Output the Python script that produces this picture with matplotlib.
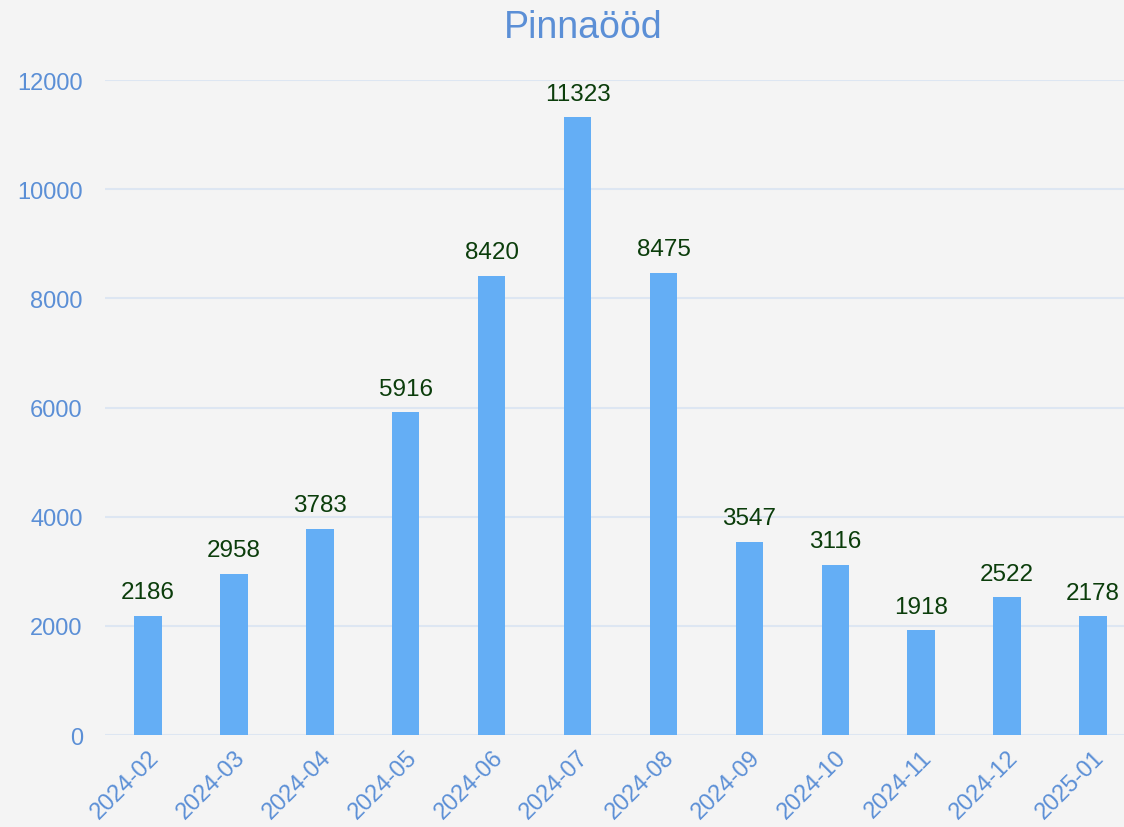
import numpy as np
import matplotlib.pyplot as plt

plt.rcParams['font.family'] = ['Liberation Sans', 'DejaVu Sans']

# Данные
months = ['2024-02', '2024-03', '2024-04', '2024-05', '2024-06', '2024-07',
          '2024-08', '2024-09', '2024-10', '2024-11', '2024-12', '2025-01']
values = [2186, 2958, 3783, 5916, 8420, 11323, 8475, 3547, 3116, 1918, 2522, 2178]

bg = '#f4f4f4'
blue_txt = '#5b8fd6'

fig = plt.figure(figsize=(11.24, 8.28), dpi=100, facecolor=bg)
ax = fig.add_axes([0.0934, 0.111, 1 - 0.0934, 0.791])
ax.set_facecolor(bg)

x = np.arange(len(months))
ax.bar(x, values, width=0.32, color='#64aef5', zorder=3)

for xi, v in zip(x, values):
    ax.text(xi, v + 230, str(v), ha='center', va='bottom', fontsize=17.5, color='#0b3d0b')

ax.set_xlim(-0.5, 11.36)
ax.set_ylim(0, 12000)
ax.set_yticks(np.arange(0, 12001, 2000))
ax.set_xticks(x)
ax.set_xticklabels(months, rotation=45, ha='right', rotation_mode='anchor')
ax.tick_params(axis='both', length=0, colors=blue_txt, labelsize=17)
ax.tick_params(axis='x', pad=8)
ax.tick_params(axis='y', pad=16)
ax.grid(axis='y', color='#dde6f2', linewidth=1.5, zorder=0)
ax.set_axisbelow(True)
for s in ax.spines.values():
    s.set_visible(False)

fig.text(0.519, 0.966, 'Pinnaööd', ha='center', va='center', fontsize=27, color=blue_txt)

plt.savefig('out.png', dpi=100, facecolor=bg)
